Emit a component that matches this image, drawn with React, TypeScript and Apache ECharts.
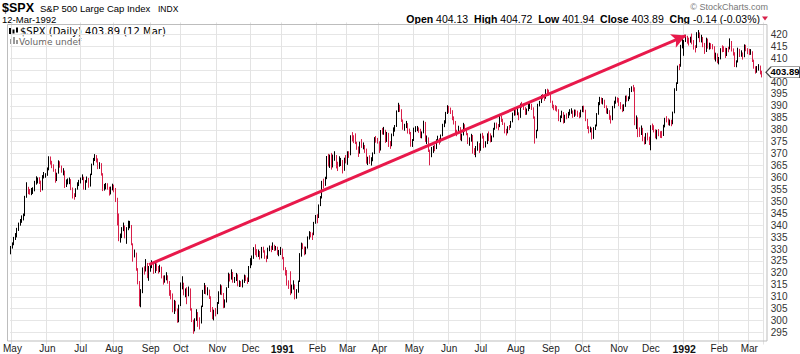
import React, { useEffect, useRef } from "react";
import * as echarts from "echarts";

// ---------- DATA ----------
const startDate = "1990-04-30";
const endDate = "1992-03-12";
const holidays = [
  "1990-05-28", "1990-07-04", "1990-09-03", "1990-11-22", "1990-12-25",
  "1991-01-01", "1991-02-18", "1991-03-29", "1991-05-27", "1991-07-04",
  "1991-09-02", "1991-11-28", "1991-12-25", "1992-01-01", "1992-02-17",
];
const monthNames = ["Jan", "Feb", "Mar", "Apr", "May", "Jun", "Jul", "Aug", "Sep", "Oct", "Nov", "Dec"];
const firstOpen = 329.11;

const closes = [
  330.80,
  // May 1990
  332.25,334.48,335.57,338.39,340.53,342.01,342.86,343.82,352.00,354.75,354.28,354.00,354.47,354.64,358.00,358.43,359.29,358.41,354.58,360.65,360.86,361.23,
  // Jun 1990
  363.16,367.40,366.64,364.96,363.15,358.71,361.63,366.25,364.90,362.90,362.91,356.88,358.47,358.47,359.10,355.43,352.31,352.06,355.14,357.63,358.02,
  // Jul 1990
  359.54,360.16,355.68,358.42,359.52,356.49,361.23,365.44,367.31,368.95,367.52,364.22,365.32,361.61,355.31,355.79,357.09,355.91,353.44,355.55,356.15,
  // Aug 1990
  355.52,351.48,344.86,334.43,334.83,338.35,339.94,335.52,338.84,339.39,340.06,332.39,327.83,328.51,321.86,316.55,307.06,311.51,321.44,321.34,324.19,318.71,322.56,
  // Sep 1990
  323.09,324.39,320.46,323.40,321.63,321.04,322.54,318.65,316.83,317.77,318.60,316.60,311.48,311.32,304.59,308.26,305.06,300.97,306.10,
  // Oct 1990
  314.94,315.21,311.40,312.69,311.50,313.48,305.10,300.39,295.46,300.03,303.23,298.92,298.76,305.74,312.48,314.76,312.36,312.60,310.17,304.71,301.88,304.06,304.00,
  // Nov 1990
  307.02,311.85,314.59,311.62,306.01,307.61,313.74,319.48,317.67,320.40,317.02,317.12,319.34,315.31,316.03,315.10,316.51,318.10,317.95,316.42,322.22,
  // Dec 1990
  324.10,326.35,329.92,329.07,327.75,328.89,326.44,330.19,329.34,326.82,326.02,330.05,330.20,330.12,331.75,329.90,330.85,328.29,328.72,330.22,
  // Jan 1991
  326.45,321.91,321.00,315.44,314.90,311.49,314.53,315.23,309.35,312.49,316.17,327.97,332.23,331.06,328.31,330.21,334.78,336.07,336.03,335.84,340.91,343.93,
  // Feb 1991
  343.05,348.34,351.26,358.07,356.52,359.35,368.58,365.50,369.02,364.22,369.06,369.39,365.14,364.97,365.65,367.26,362.81,367.74,367.07,
  // Mar 1991
  370.47,369.33,376.72,376.17,375.91,374.95,372.96,370.03,374.57,373.50,373.59,372.11,366.59,367.92,366.58,367.48,369.83,376.30,375.35,375.22,
  // Apr 1991
  371.30,379.50,378.94,379.77,375.36,378.66,373.56,373.15,377.63,380.40,381.19,387.62,390.45,388.46,384.20,380.95,381.76,382.76,379.25,379.02,373.66,375.34,
  // May 1991
  380.29,380.52,380.80,380.08,377.32,378.51,383.25,375.74,376.76,371.62,368.57,372.19,372.39,372.28,375.35,376.19,374.96,377.49,381.94,382.79,386.96,389.83,
  // Jun 1991
  388.06,387.74,385.09,383.63,379.43,378.57,381.05,376.65,377.63,382.29,380.13,378.59,375.09,375.42,377.75,370.94,370.65,371.59,374.40,371.16,
  // Jul 1991
  377.92,377.47,373.33,374.08,377.94,376.11,375.74,376.97,380.25,382.39,381.54,381.18,385.37,384.22,382.88,379.42,378.64,380.96,380.93,383.15,386.69,387.81,
  // Aug 1991
  387.12,387.18,385.06,390.62,390.56,389.32,387.12,388.02,389.62,389.90,389.33,385.58,376.47,379.43,390.59,391.33,394.17,393.85,393.06,396.64,396.47,395.43,
  // Sep 1991
  392.15,389.97,389.14,389.10,388.57,384.56,385.09,387.34,383.59,385.78,385.50,386.94,387.56,387.92,385.92,387.71,386.88,386.49,385.90,387.86,
  // Oct 1991
  389.20,388.26,384.47,381.25,379.50,380.67,376.80,380.55,381.45,386.47,391.01,392.80,391.92,392.49,390.02,387.83,387.94,385.07,384.20,389.52,391.48,392.96,392.45,
  // Nov 1991
  391.32,390.28,388.71,389.97,393.72,392.89,393.12,396.74,397.41,397.15,382.62,385.24,379.42,378.53,380.06,376.14,375.34,377.96,376.55,375.22,
  // Dec 1991
  381.40,380.96,380.07,377.39,379.10,378.26,377.90,377.70,381.55,384.47,384.46,382.74,383.48,382.52,387.04,396.82,399.33,406.49,406.46,415.14,417.09,
  // Jan 1992
  417.26,419.34,417.96,417.40,418.10,417.61,415.10,414.34,420.44,420.77,418.21,418.86,416.36,412.64,418.13,414.96,415.48,414.99,414.96,410.34,411.62,408.79,
  // Feb 1992
  409.53,413.85,413.84,413.82,411.09,413.77,413.76,417.13,413.69,412.48,407.38,408.26,413.90,411.43,412.27,410.45,415.35,413.86,412.70,
  // Mar 1992
  412.45,412.85,409.33,406.51,404.44,405.21,406.89,404.03,403.89,
];

const highs = [
  331.3,
  332.8,335.1,336.7,338.9,341.1,342.6,344.1,344.9,352.3,358.0,356.1,355.2,355.6,355.9,358.6,360.5,360.0,360.1,358.7,361.0,362.3,361.8,
  364.2,368.9,368.8,367.0,365.5,363.6,362.0,367.2,366.8,365.0,363.9,362.9,359.2,359.6,360.0,359.3,355.8,353.4,355.5,358.0,359.0,
  360.0,361.3,360.3,358.9,360.4,359.8,361.6,365.8,368.2,369.8,369.4,368.0,366.4,366.0,361.8,357.3,357.7,357.6,356.1,356.2,357.4,
  357.0,355.6,351.5,344.9,336.5,339.2,341.1,339.9,339.2,341.9,341.8,340.1,332.4,329.8,328.5,322.0,316.6,313.2,322.3,322.8,325.8,324.2,322.9,
  324.1,325.3,324.4,324.5,324.0,322.9,323.4,322.6,318.9,319.0,320.3,319.0,316.6,312.8,311.4,308.7,308.3,305.1,306.7,
  316.0,318.6,315.9,313.5,314.0,314.3,313.5,305.2,300.4,301.0,304.8,303.6,301.4,306.3,312.9,315.8,314.9,314.0,313.0,310.2,305.7,304.6,305.3,
  307.8,312.3,315.2,314.8,311.6,308.9,314.0,320.1,319.6,321.5,320.4,318.3,320.0,319.4,316.9,316.6,317.2,319.3,319.0,318.1,322.9,
  326.2,327.3,330.8,332.0,330.0,329.8,329.2,330.9,331.0,329.5,327.3,330.6,331.5,331.4,332.8,331.8,331.3,331.0,329.6,330.9,
  330.2,326.7,322.4,321.2,316.9,320.7,315.1,316.9,315.2,313.2,316.8,328.3,332.7,332.4,331.1,331.0,335.3,337.5,337.2,336.9,341.4,344.3,
  344.6,348.7,352.2,358.6,359.5,360.3,369.0,369.9,369.6,370.3,369.6,371.0,369.4,366.6,368.9,368.2,367.3,368.3,369.4,
  371.0,371.0,377.7,379.0,377.7,378.5,375.0,373.0,375.0,376.1,374.7,373.6,372.1,368.7,369.3,368.5,370.5,376.9,377.4,376.6,
  375.2,379.9,380.8,381.2,380.0,379.1,378.7,375.3,378.4,381.0,382.0,388.1,391.3,390.5,388.6,384.3,382.5,383.7,382.8,380.5,379.1,376.1,
  380.9,381.5,381.6,381.0,380.4,379.3,383.8,383.3,377.6,376.8,371.7,372.8,373.3,373.8,376.0,377.5,376.5,378.0,382.5,384.0,387.5,390.3,
  390.0,389.3,388.2,385.6,383.7,380.0,381.7,381.1,378.4,382.9,382.3,380.6,378.6,376.8,378.3,377.8,372.3,373.2,375.1,374.4,
  378.4,378.7,377.5,375.2,378.5,379.3,378.5,377.6,380.8,383.0,383.0,382.4,385.9,385.8,384.6,383.0,380.4,381.5,382.0,383.7,387.2,388.3,
  388.6,389.2,387.3,391.0,391.7,391.0,389.5,388.9,391.3,391.5,390.9,389.4,385.6,380.0,390.9,392.1,394.6,395.0,394.8,397.0,397.2,396.8,
  395.5,392.2,390.5,390.3,390.0,388.6,386.0,388.0,387.4,386.3,386.9,387.5,388.6,389.0,388.1,388.5,388.4,388.0,387.3,388.4,
  390.0,390.1,388.4,384.6,381.5,381.3,380.8,381.1,382.2,387.0,391.6,393.8,393.5,393.3,392.6,390.2,389.0,388.2,386.0,390.0,392.2,393.9,393.6,
  393.3,391.6,390.6,390.7,394.3,394.4,394.0,397.5,398.2,398.8,397.8,386.0,385.2,381.0,381.8,380.8,377.1,378.6,378.8,377.1,
  381.9,382.6,381.9,380.2,380.0,380.3,379.4,379.5,382.1,385.0,385.7,384.8,384.3,384.2,387.6,397.4,399.9,406.9,407.6,415.6,418.3,
  417.6,419.8,419.4,418.6,419.0,420.3,417.6,415.4,420.9,421.8,420.8,419.8,418.9,416.4,418.6,418.2,416.5,416.3,415.9,415.0,412.3,412.0,
  410.5,414.2,415.4,415.0,414.4,414.3,414.8,418.3,417.2,414.1,412.5,409.1,414.4,413.9,413.3,412.4,415.8,415.6,414.2,
  413.9,413.8,412.9,409.4,406.6,406.7,407.5,406.9,404.72,
];

const lows = [
  327.8,
  330.2,331.6,333.8,334.9,337.6,339.8,341.0,342.0,343.8,351.5,353.0,352.8,352.6,353.1,354.2,357.0,357.5,357.3,353.9,354.6,359.6,359.9,
  360.7,363.0,365.4,363.9,362.4,357.8,358.5,361.6,364.1,362.0,360.9,355.6,356.0,357.1,357.2,354.7,351.2,350.7,351.8,354.9,356.4,
  357.5,358.9,354.9,354.8,357.8,355.7,356.2,361.0,365.1,366.9,366.3,363.5,363.6,360.8,354.3,354.5,355.0,354.9,352.4,352.9,354.6,
  353.8,349.7,339.9,333.3,332.7,334.6,337.5,334.5,332.2,337.9,338.7,331.6,324.7,326.5,320.9,315.2,306.0,305.6,311.5,319.3,320.6,317.8,316.7,
  320.5,322.0,319.6,320.0,320.8,319.7,320.3,317.7,315.1,315.9,316.9,315.5,310.4,308.9,303.5,302.8,303.9,299.1,299.3,
  306.1,313.1,310.6,309.8,306.9,310.2,304.2,299.4,294.5,295.5,299.9,297.4,296.3,298.8,305.7,311.2,311.0,310.6,309.1,303.6,300.6,300.1,301.8,
  302.7,307.0,310.9,310.7,305.2,305.4,307.6,313.7,316.4,317.2,315.9,315.8,316.6,314.4,314.1,314.2,313.9,315.8,316.6,315.4,316.2,
  322.0,323.2,325.9,327.4,326.6,326.7,325.6,326.1,328.5,325.9,324.5,325.9,329.1,328.7,329.6,329.2,329.4,327.6,327.0,327.5,
  325.7,321.1,318.9,314.7,313.3,310.7,311.4,313.0,308.9,309.2,311.7,316.2,326.8,330.0,327.4,327.8,330.2,334.0,334.9,333.8,335.8,340.6,
  340.8,343.0,348.0,351.2,355.4,356.5,359.3,364.6,364.0,363.3,364.2,367.0,363.8,362.7,364.5,364.8,361.7,362.8,365.9,
  365.3,368.2,369.3,375.1,374.4,374.0,371.6,368.6,370.0,372.4,371.8,370.3,365.8,365.2,365.7,365.0,366.8,369.8,374.6,374.2,
  370.3,371.3,378.0,377.9,374.5,374.9,372.8,372.0,373.1,377.3,379.2,381.2,387.4,387.5,383.3,380.0,379.6,380.7,378.4,378.1,372.9,372.8,
  375.3,379.0,379.4,378.7,376.5,376.4,378.5,374.9,374.0,370.7,365.1,368.5,370.3,371.0,371.9,374.6,373.8,374.7,377.3,381.1,382.6,386.6,
  387.1,386.6,384.0,382.2,378.4,377.3,378.4,375.6,375.2,377.6,379.2,377.7,374.0,373.3,375.0,370.0,369.4,368.5,371.2,370.3,
  371.2,376.3,372.3,372.6,374.0,375.3,374.7,374.9,376.8,380.0,380.5,379.8,381.1,383.3,382.0,378.5,377.6,378.5,379.9,380.8,383.1,385.9,
  386.0,386.1,384.0,385.0,389.2,388.3,386.2,386.3,387.8,388.7,388.3,384.6,374.2,376.4,379.4,389.8,391.2,392.8,392.1,393.0,395.3,394.3,
  391.3,389.0,388.2,388.0,387.6,383.6,383.2,384.9,382.6,382.9,384.4,384.9,386.0,386.7,385.0,385.4,385.9,385.4,384.8,385.2,
  387.4,387.3,383.6,380.3,378.5,378.9,375.9,376.2,379.9,381.4,386.3,390.3,390.9,390.6,389.1,386.8,386.6,384.2,382.6,384.0,389.0,390.9,391.4,
  389.9,388.6,387.4,387.8,389.6,391.8,392.0,392.8,395.8,396.0,381.9,380.3,376.9,377.0,377.8,375.2,373.8,374.0,375.5,373.6,
  371.4,379.9,378.9,376.4,376.0,377.3,376.6,376.5,377.4,381.0,383.1,381.9,381.7,381.5,382.3,386.9,396.3,399.2,405.0,406.4,414.1,
  411.0,416.8,416.1,415.3,416.5,415.8,413.6,412.4,414.3,418.4,416.7,416.6,414.6,411.8,412.6,414.0,413.6,413.8,413.7,409.4,408.6,407.9,
  407.4,409.5,412.5,412.6,410.1,410.9,412.5,413.7,412.8,411.1,406.3,406.2,408.2,410.5,410.6,409.4,410.4,412.9,411.7,
  411.3,411.4,408.4,405.6,403.5,403.9,404.8,403.2,401.94,
];

const trendStart = { date: "1990-08-31", value: 323.5 };
const trendEnd = { date: "1992-01-03", value: 419.5 };
const yTicks = [290, 295, 300, 305, 310, 315, 320, 325, 330, 335, 340, 345, 350, 355, 360, 365, 370, 375, 380, 385, 390, 395, 400, 405, 410, 415, 420, 425];
const hiddenTicks = [290, 425];

// ---------- HELPERS ----------
function buildDates(): string[] {
  const out: string[] = [];
  const d = new Date(startDate + "T00:00:00Z");
  const end = new Date(endDate + "T00:00:00Z");
  while (d.getTime() <= end.getTime()) {
    const wd = d.getUTCDay();
    const s = d.toISOString().slice(0, 10);
    if (wd !== 0 && wd !== 6 && holidays.indexOf(s) < 0) out.push(s);
    d.setUTCDate(d.getUTCDate() + 1);
  }
  return out;
}

const FONT = '"Liberation Sans", Arial, Helvetica, sans-serif';
const UP = "#000000";
const DOWN = "#d8204a";

export default function App() {
  const ref = useRef<HTMLDivElement>(null);
  useEffect(() => {
    if (!ref.current) return;
    const chart = echarts.init(ref.current, null, { renderer: "svg" });
    const dates = buildDates();
    const n = Math.min(dates.length, closes.length, highs.length, lows.length);
    const cats = dates.slice(0, n);
    const candles = [] as number[][];
    for (let i = 0; i < n; i++) {
      const o = i === 0 ? firstOpen : closes[i - 1];
      candles.push([o, closes[i], lows[i], highs[i]]);
    }
    const isMonthStart = (i: number) => {
      if (i <= 0 || i >= cats.length) return false;
      return cats[i].slice(5, 7) !== cats[i - 1].slice(5, 7);
    };
    const lastDate = cats[n - 1];
    const lastClose = closes[n - 1];
    const splitColors = yTicks.map((t) => (hiddenTicks.indexOf(t) >= 0 ? "rgba(0,0,0,0)" : "#e6e6e6"));

    const option: any = {
      animation: false,
      backgroundColor: "#ffffff",
      grid: { left: 7.2, top: 22.4, width: 755.6, height: 322.2, containLabel: false },
      xAxis: {
        type: "category",
        data: cats,
        boundaryGap: true,
        axisLine: { show: false },
        axisTick: { show: false },
        axisLabel: {
          interval: (i: number) => isMonthStart(i),
          margin: -1.5,
          fontFamily: FONT,
          fontSize: 10,
          color: "#222",
          formatter: (v: string) => {
            const m = parseInt(v.slice(5, 7), 10) - 1;
            if (m === 0) return "{y|" + v.slice(0, 4) + "}";
            return monthNames[m];
          },
          rich: { y: { fontWeight: "bold", fontSize: 10.5, fontFamily: FONT, color: "#111" } },
        },
        splitLine: {
          show: true,
          interval: (i: number) => isMonthStart(i),
          lineStyle: { color: "#e3e3e3", width: 1 },
        },
      },
      yAxis: {
        type: "value",
        position: "right",
        min: 290,
        max: 425,
        interval: 5,
        scale: false,
        axisLine: { show: false },
        axisTick: { show: false },
        axisLabel: {
          margin: 8,
          fontFamily: FONT,
          fontSize: 10,
          color: "#333",
          formatter: (v: number) =>
            hiddenTicks.indexOf(v) >= 0 || Math.abs(v - lastClose) < 3 ? "" : String(v),
        },
        splitLine: { show: true, lineStyle: { color: splitColors, width: 1 } },
      },
      series: [
        {
          type: "candlestick",
          data: candles,
          barWidth: 1.3,
          itemStyle: { color: UP, color0: DOWN, borderColor: UP, borderColor0: DOWN, borderWidth: 1 },
          markLine: {
            silent: true,
            symbol: ["none", "arrow"],
            symbolSize: [11, 14],
            lineStyle: { color: "#e8194b", width: 3, type: "solid" },
            label: { show: false },
            data: [[{ coord: [trendStart.date, trendStart.value] }, { coord: [trendEnd.date, trendEnd.value] }]],
          },
          markPoint: {
            silent: true,
            symbol: "path://M0,5 L6,0 L40,0 L40,10 L6,10 Z",
            symbolSize: [34, 11],
            symbolKeepAspect: false,
            symbolOffset: [21, -0.5],
            itemStyle: { color: "#ffffff", borderColor: "#444", borderWidth: 1 },
            label: {
              show: true,
              position: "inside",
              offset: [2, -0.5],
              formatter: lastClose.toFixed(2),
              fontFamily: FONT,
              fontWeight: "bold",
              fontSize: 9.5,
              lineHeight: 9,
              color: "#000",
            },
            data: [{ coord: [lastDate, lastClose] }],
          },
        },
      ],
      graphic: [
        { type: "rect", z: 1, silent: true, shape: { x: 7.5, y: 24.5, width: 759.5, height: 316.5 }, style: { fill: "none", stroke: "#bdbdbd", lineWidth: 1 } },
        { type: "text", x: 2, y: 8, style: { text: "$SPX", font: "bold 12.5px " + FONT, fill: "#000", verticalAlign: "middle" } },
        { type: "text", x: 40, y: 8.5, style: { text: "S&P 500 Large Cap Index", font: "9.5px " + FONT, fill: "#000", verticalAlign: "middle" } },
        { type: "text", x: 158, y: 8.5, style: { text: "INDX", font: "8.5px " + FONT, fill: "#000", verticalAlign: "middle" } },
        { type: "text", x: 2, y: 19.5, style: { text: "12-Mar-1992", font: "9.5px " + FONT, fill: "#000", verticalAlign: "middle" } },
        { type: "text", x: 768, y: 7, style: { text: "© StockCharts.com", font: "9px " + FONT, fill: "#777", align: "right", verticalAlign: "middle" } },
        {
          type: "text",
          x: 760,
          y: 18.5,
          style: {
            text: "{b|Open} 404.13  {b|High} 404.72  {b|Low} 401.94  {b|Close} 403.89  {b|Chg} -0.14 (-0.03%)",
            font: "10.5px " + FONT,
            fill: "#000",
            align: "right",
            verticalAlign: "middle",
            rich: { b: { fontWeight: "bold", fontSize: 10.5, fontFamily: FONT, fill: "#000" } },
          },
        },
        { type: "polygon", shape: { points: [[762, 16.5], [768, 16.5], [765, 20.5]] }, style: { fill: DOWN } },
        // legend icons
        { type: "rect", shape: { x: 9, y: 28, width: 2, height: 6 }, style: { fill: "#000" } },
        { type: "rect", shape: { x: 12.5, y: 29.5, width: 2, height: 4 }, style: { fill: "#000" } },
        { type: "rect", shape: { x: 16, y: 27.5, width: 2, height: 5 }, style: { fill: "#000" } },
        { type: "text", x: 20, y: 31.5, style: { text: "$SPX (Daily) 403.89 (12 Mar)", font: "10px 'DejaVu Sans', Verdana, sans-serif", fill: "#000", verticalAlign: "middle" } },
        { type: "rect", shape: { x: 10, y: 39, width: 2, height: 5 }, style: { fill: "#999" } },
        { type: "rect", shape: { x: 13, y: 37, width: 2, height: 7 }, style: { fill: "#999" } },
        { type: "rect", shape: { x: 16, y: 40, width: 2, height: 4 }, style: { fill: "#999" } },
        { type: "text", x: 19, y: 42, style: { text: "Volume undef", font: "9px 'DejaVu Sans', Verdana, sans-serif", fill: "#666", verticalAlign: "middle" } },
      ],
    };
    chart.setOption(option);
    return () => chart.dispose();
  }, []);
  return <div ref={ref} style={{ position: "fixed", left: 0, top: 0, width: 800, height: 354, background: "#fff" }} />;
}
